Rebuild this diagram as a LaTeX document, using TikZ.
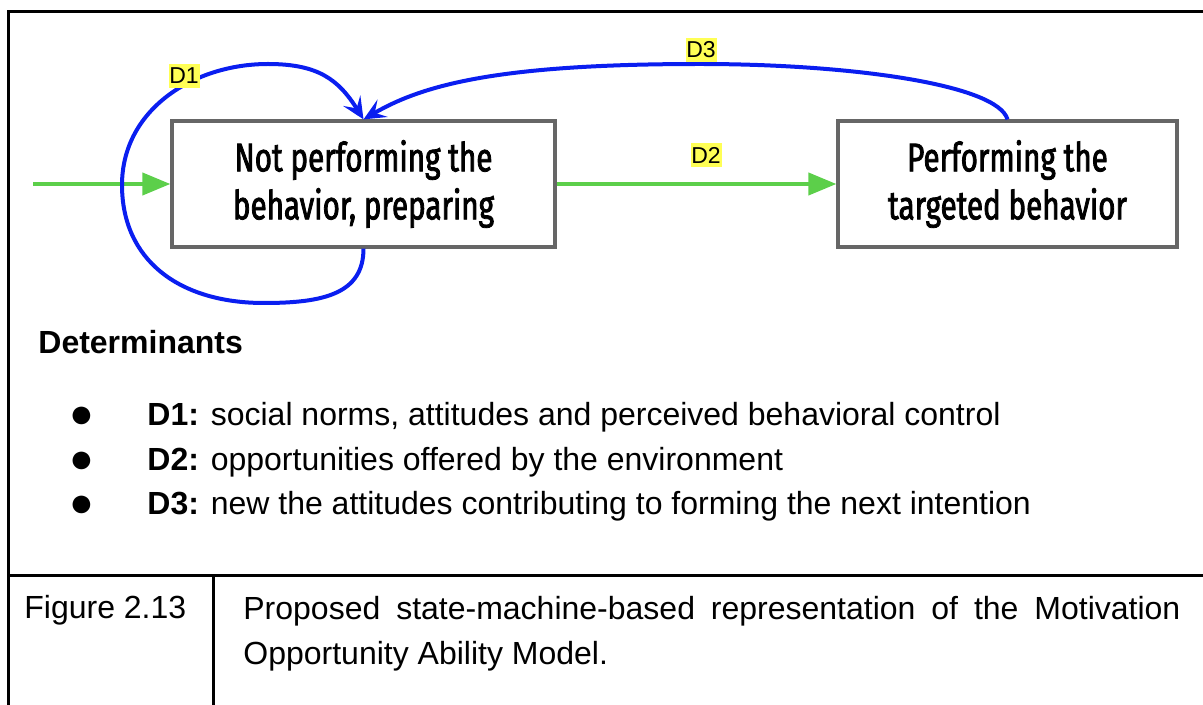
\documentclass[tikz,border=0pt]{standalone}
\usepackage{fontspec}
\setmainfont{Liberation Sans}
\newfontfamily\boxfont[FakeStretch=0.74,FakeBold=2]{Fira Sans}
\usetikzlibrary{arrows.meta}
\definecolor{gline}{HTML}{5CCF4A}
\definecolor{bline}{HTML}{0A1EF0}
\definecolor{boxgray}{HTML}{666666}
\definecolor{hl}{HTML}{FFFF55}
\tikzset{
  statebox/.style={draw=boxgray, line width=1.6pt, align=center, inner sep=0pt,
    minimum height=63pt, font=\boxfont\fontsize{20}{24}\selectfont},
  dlabel/.style={fill=hl, inner xsep=0.4pt, inner ysep=1.8pt, font=\fontsize{11.5}{12}\selectfont},
  garrow/.style={draw=gline, line width=2pt, -{Triangle[length=14pt,width=11pt]}},
  barrow/.style={draw=bline, line width=2pt, -{Stealth[length=11pt,width=10pt,inset=4.5pt]}},
  frameline/.style={line width=1.5pt, black},
  bodytext/.style={anchor=west, inner sep=0pt, font=\fontsize{16}{19}\selectfont},
  bulletmark/.style={inner sep=0pt, font=\fontsize{20.5}{22}\selectfont},
}
\begin{document}
\begin{tikzpicture}[x=0.5pt,y=-0.5pt]
\useasboundingbox (0,0) rectangle (1203,705);
% frame
\draw[frameline] (8,705) -- (8,12) -- (1203,12);
\draw[frameline] (8,575) -- (1203,575);
\draw[frameline] (213,575) -- (213,705);
% states
\node[statebox, minimum width=191.5pt] (n1) at (363.5,184) {Not performing the\\behavior, preparing};
\node[statebox, minimum width=169.5pt] (n2) at (1007.5,184) {Performing the\\targeted behavior};
\coordinate (start) at (33,184);
\draw[garrow] (start) -- (n1.west);
\draw[garrow] (n1.east) -- (n2.west);
% D1 loop
\draw[barrow] (n1.south) .. controls +(0,45) and +(60,0) .. (264,303)
  .. controls +(-85,0) and +(0,75) .. (122,185)
  .. controls +(0,-75) and +(-75,0) .. (268,64)
  .. controls +(50,0) and +(-25,-40) .. (n1.north);
% D3
\draw[barrow] (n2.north) .. controls +(-10,-35) and +(150,0) .. (700,64)
  .. controls +(-200,0) and +(60,-35) .. (n1.north);
% labels
\node[dlabel] (d1) at (184,76) {D1};
\node[dlabel] (d2) at (706,155) {D2};
\node[dlabel] (d3) at (701,50) {D3};
% determinants
\node[bodytext, font=\bfseries\fontsize{16}{19}\selectfont] (det) at (38,342) {Determinants};
\node[bulletmark] (b1) at (82,417) {●};
\node[bulletmark] (b2) at (82,462) {●};
\node[bulletmark] (b3) at (82,506) {●};
\node[bodytext] (i1) at (147,417) {\textbf{D1:} social norms, attitudes and perceived behavioral control};
\node[bodytext] (i2) at (147,462) {\textbf{D2:} opportunities offered by the environment};
\node[bodytext] (i3) at (147,506) {\textbf{D3:} new the attitudes contributing to forming the next intention};
% caption
\node[bodytext] (fig) at (24,610) {Figure 2.13};
\node[anchor=north west, inner sep=0pt, text width=468.5pt, align=justify,
  font=\fontsize{16}{22.5}\selectfont] (cap) at (243,596)
  {Proposed state-machine-based representation of the Motivation\linebreak Opportunity Ability Model.};
\end{tikzpicture}
\end{document}
